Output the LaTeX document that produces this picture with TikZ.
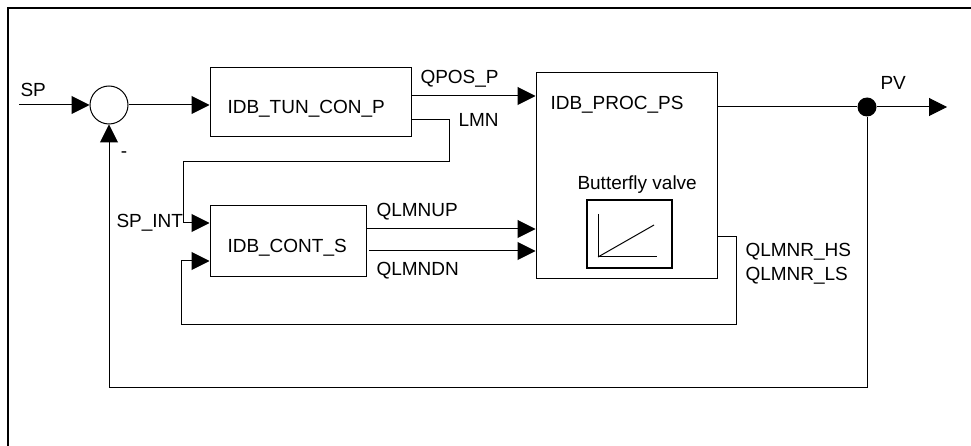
\documentclass[tikz,border=0pt]{standalone}
\usepackage{fontspec}
\setmainfont{Liberation Sans}
\usetikzlibrary{arrows.meta,calc}

\begin{document}
\begin{tikzpicture}[x=1pt,y=-1pt,
  line width=1pt,
  arr/.style={-{Triangle[length=18pt,width=18pt]}},
  blockbox/.style={draw,rectangle,inner sep=0pt},
  lbl/.style={anchor=base west,inner sep=0pt,font=\fontsize{19}{22}\selectfont},
]
\useasboundingbox (0,0) rectangle (971,446);
% frame
\draw[line width=1.3pt] (8,446) -- (8,8) -- (971,8);

% blocks
\node[blockbox,minimum width=201pt,minimum height=69pt] (tun) at (310.5,102.5) {};
\node[blockbox,minimum width=156pt,minimum height=70pt] (cont) at (288,241) {};
\node[blockbox,minimum width=181pt,minimum height=205pt] (proc) at (626.5,175.5) {};
\node[blockbox,line width=1.7pt,minimum width=85pt,minimum height=68pt] (valve) at (629.5,234) {};
\node[draw,circle,minimum size=38pt,inner sep=0pt] (sum) at (109,105) {};
\node[fill,circle,minimum size=19pt,inner sep=0pt] (pv) at (867,107) {};

% valve characteristic
\draw (598,214) -- (598,257) -- (657,257);
\draw (598,257) -- (654,225);

% labels
\node[lbl] (tSP) at (20,97) {SP};
\node[lbl] (tTUN) at (227,114) {IDB\_TUN\_CON\_P};
\node[lbl] (tQPOS) at (420,84) {QPOS\_P};
\node[lbl] (tLMN) at (458,127) {LMN};
\node[lbl] (tPROC) at (550,110) {IDB\_PROC\_PS};
\node[lbl] (tPV) at (880,90) {PV};
\node[lbl] (tBV) at (577,190) {Butterfly valve};
\node[lbl] (tSPINT) at (116,228) {SP\_INT};
\node[lbl] (tCONT) at (227,253) {IDB\_CONT\_S};
\node[lbl] (tUP) at (376,217) {QLMNUP};
\node[lbl] (tDN) at (376,275) {QLMNDN};
\node[lbl] (tHS) at (745,257) {QLMNR\_HS};
\node[lbl] (tLS) at (745,280) {QLMNR\_LS};
\node[inner sep=0pt,font=\fontsize{19}{22}\selectfont] (tMinus) at (124,155) {-};

% bend points
\coordinate (spin) at (19,105);
\coordinate (qpos) at (470,96);
\coordinate (lmnA) at (449,120);
\coordinate (lmnB) at (449,162);
\coordinate (lmnC) at (183,162);
\coordinate (lmnD) at (183,223);
\coordinate (up) at (450,229);
\coordinate (dnstart) at (369,251);
\coordinate (rA) at (736,237);
\coordinate (rB) at (736,324);
\coordinate (rC) at (181,324);
\coordinate (rD) at (181,261);
\coordinate (pvout) at (947,107);
\coordinate (fbA) at (867,387);
\coordinate (fbB) at (109,387);

% connectors
\draw[arr] (spin) -- (sum.west);
\draw[arr] (sum.east) -- (sum.east -| tun.west);
\draw[arr] (tun.east |- qpos) -- (qpos -| proc.west);
\draw[arr] (tun.east |- lmnA) -- (lmnA) -- (lmnB) -- (lmnC) -- (lmnD) -- (lmnD -| cont.west);
\draw[arr] (cont.east |- up) -- (up -| proc.west);
\draw[arr] (dnstart) -- (dnstart -| proc.west);
\draw[arr] (proc.east |- rA) -- (rA) -- (rB) -- (rC) -- (rD) -- (rD -| cont.west);
\draw (proc.east |- pv) -- (pv);
\draw[arr] (pv) -- (pvout);
\draw[arr] (pv) -- (fbA) -- (fbB) -- (sum.south);
\end{tikzpicture}
\end{document}
